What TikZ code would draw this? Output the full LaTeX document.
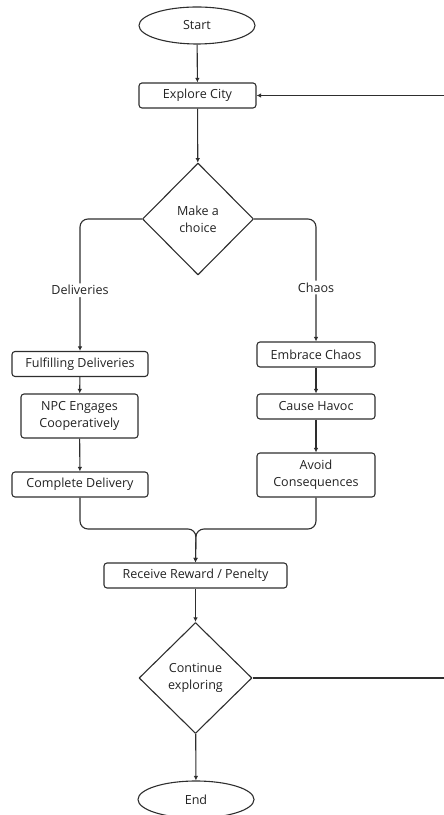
\documentclass[tikz,border=0pt]{standalone}
\usepackage{fontspec}
\setmainfont{Open Sans}
\usetikzlibrary{shapes.geometric,arrows.meta}
\definecolor{inkline}{HTML}{2E2E2E}
\definecolor{inktext}{HTML}{222222}
\tikzset{
  stepbox/.style={draw=inkline,line width=1.1bp,rounded corners=3bp,align=center,
    text=inktext,inner sep=2bp,minimum height=25bp},
  termnode/.style={draw=inkline,line width=1.1bp,ellipse,text=inktext,
    minimum width=116bp,minimum height=37bp,inner sep=0bp},
  choicenode/.style={draw=inkline,line width=1.1bp,diamond,aspect=1,align=center,
    text=inktext,minimum width=111bp,minimum height=112bp,inner sep=0bp},
  flow/.style={inkline,line width=1.1bp,->},
  edgelabel/.style={fill=white,text=inktext,inner sep=2bp},
}
\begin{document}
\begin{tikzpicture}[>={Latex[length=4.5bp,width=4.5bp]},line join=bevel,font=\fontsize{12.6}{17}\selectfont]
\useasboundingbox (0bp,0bp) rectangle (444bp,815bp);
\clip (0bp,0bp) rectangle (444bp,815bp);
%%
\node (node_start) at (197.0bp,789.5bp) [termnode] {Start};
  \node (node_explore) at (197.5bp,719.5bp) [stepbox,minimum width=117bp] {Explore City};
  \node (node_choice) at (198.0bp,596.0bp) [choicenode] {Make a\\choice};
  \node (node_fulfil) at (80.0bp,451.0bp) [stepbox,minimum width=136bp] {Fulfilling Deliveries};
  \node (node_npc) at (79.5bp,399.0bp) [stepbox,minimum width=117bp,minimum height=44bp] {NPC Engages\\Cooperatively};
  \node (node_cdel) at (80.0bp,330.5bp) [stepbox,minimum width=136bp] {Complete Delivery};
  \node (node_embrace) at (316.0bp,460.5bp) [stepbox,minimum width=118bp] {Embrace Chaos};
  \node (node_havoc) at (316.0bp,408.5bp) [stepbox,minimum width=118bp] {Cause Havoc};
  \node (node_avoid) at (316.0bp,340.0bp) [stepbox,minimum width=118bp,minimum height=44bp] {Avoid\\Consequences};
  \coordinate (node_merge) at (196.0bp,286.0bp);
  \node (node_reward) at (195.5bp,239.5bp) [stepbox,minimum width=183bp] {Receive Reward / Penelty};
  \node (node_continue) at (195.5bp,137.0bp) [choicenode,minimum width=113bp,minimum height=111bp] {Continue\\exploring};
  \node (node_end) at (196.0bp,15.5bp) [termnode] {End};
  \coordinate (node_loop) at (470.0bp,400.0bp);
%
\draw [flow] (node_start) -- (node_explore);
  \draw [flow] (node_explore) -- (node_choice);
  \draw [flow,rounded corners=8bp] (node_choice.west) -| (node_fulfil.north)
    node (lbl_deliv) [edgelabel,pos=0.77] {Deliveries};
  \draw [flow,rounded corners=8bp] (node_choice.east) -| (node_embrace.north)
    node (lbl_chaos) [edgelabel,pos=0.78] {Chaos};
  \draw [flow] (node_fulfil) -- (node_npc);
  \draw [flow] (node_npc) -- (node_cdel);
  \draw [flow] (node_embrace) -- (node_havoc);
  \draw [flow] (node_havoc) -- (node_avoid);
  \draw [flow,rounded corners=8bp] (node_cdel.south) |- (node_merge) -- (node_reward.north);
  \draw [flow,rounded corners=8bp] (node_avoid.south) |- (node_merge) -- (node_reward.north);
  \draw [flow] (node_reward) -- (node_continue);
  \draw [flow] (node_continue) -- (node_end);
  \draw [flow] (node_continue.east) -| (node_loop) |- (node_explore.east);
%
\end{tikzpicture}
\end{document}
